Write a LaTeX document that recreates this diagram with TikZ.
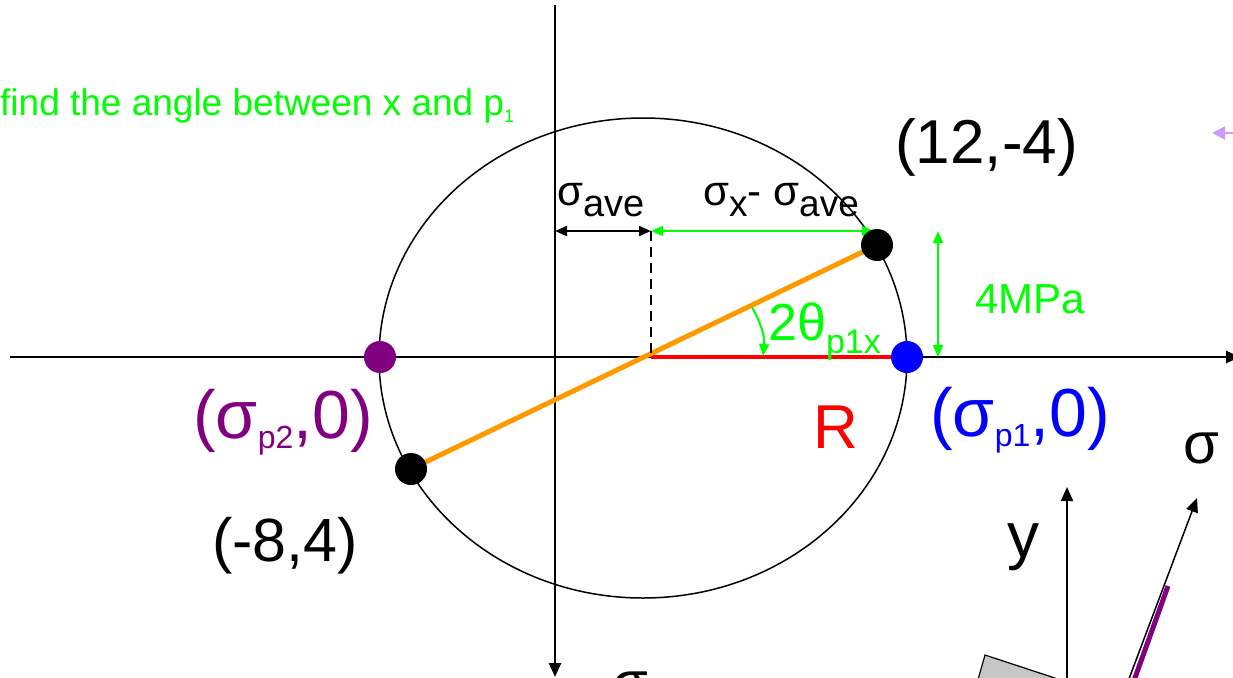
\documentclass[tikz,border=0pt]{standalone}
\usepackage{fontspec}
\setmainfont{Liberation Sans}
\usetikzlibrary{arrows.meta}
\definecolor{brightgreen}{HTML}{00FF00}
\definecolor{mohrpurple}{HTML}{800080}
\definecolor{mohrorange}{HTML}{FF9900}
\definecolor{lilac}{HTML}{CC99FF}
\newcommand{\fs}[1]{\fontsize{#1}{#1}\selectfont}
\newcommand{\lowsub}[3]{\raisebox{-#1pt}{\fs{#2}#3}}
\begin{document}
\begin{tikzpicture}[x=1pt,y=-1pt,
  bigtip/.style={-{Triangle[length=14pt,width=12pt]}},
  smalltip/.style={{Triangle[length=12pt,width=10pt]}-{Triangle[length=12pt,width=10pt]}},
  label/.style={anchor=base west,inner sep=0pt}]
\useasboundingbox (0,0) rectangle (1233,677);

\coordinate (W) at (10,357);
\coordinate (E) at (1240,357);
\coordinate (N) at (555,5);
\coordinate (S) at (555,677);
\coordinate (C) at (651,357);
\coordinate (X) at (877,245);
\coordinate (Y) at (411,469);
\coordinate (P1) at (907,357);
\coordinate (P2) at (380,357);
\coordinate (A) at (555,231);
\coordinate (B) at (651,231);
\coordinate (D) at (874,231);
\coordinate (T) at (938,231);
\coordinate (U) at (938,357);

% circle and axes
\draw[line width=1.5pt] (643,358) ellipse [x radius=264pt, y radius=240pt];
\draw[line width=2.5pt, bigtip] (W) -- (E);
\draw[line width=2.5pt, bigtip] (N) -- (S);

\draw[red, line width=4pt] (C) -- (P1);
\draw[mohrorange, line width=5pt] (Y) -- (X);
\draw[line width=2pt, dash pattern=on 10pt off 6pt] (B) -- (C);
\draw[line width=2pt, smalltip] (A) -- (B);
\draw[brightgreen, line width=2pt, smalltip] (B) -- (D);
\draw[brightgreen, line width=2pt, smalltip] (T) -- (U);
\draw[brightgreen, line width=2pt, -{Triangle[length=12pt,width=10pt]}]
  (752,307) .. controls (760,322) and (765,335) .. (763,356);

\fill (X) circle [radius=16pt];
\fill (Y) circle [radius=16pt];
\fill[blue] (P1) circle [radius=16pt];
\fill[mohrpurple] (P2) circle [radius=16pt];

% labels
\node[label, brightgreen] (note) at (0,115) {\fs{37}find the angle between x and p\lowsub{7}{18}{1}};
\node[label] (top) at (895,163) {\fs{62}(12,-4)};
\node[label] (bot) at (212,561) {\fs{61}(-8,4)};
\node[label, mohrpurple] (sp2) at (193,438) {\fs{68}(σ\lowsub{10}{32}{p2},0)};
\node[label, blue] (sp1) at (930,436) {\fs{68}(σ\lowsub{10}{32}{p1},0)};
\node[anchor=base, inner sep=0pt, red] (rad) at (836,448) {\fs{62}R};
\node[label] (save) at (557,205) {\fs{42}σ\lowsub{11}{38}{ave}};
\node[label] (sxave) at (703,205) {\fs{42}σ\lowsub{11}{37}{x}- σ\lowsub{11}{37}{ave}};
\node[label, brightgreen] (tau) at (975,313) {\fs{42}4MPa};
\node[label, brightgreen] (ang) at (768,340) {\fs{52}2θ\lowsub{13}{34}{p1x}};

% element sketch
\coordinate (Y0) at (1067,700);
\coordinate (Y1) at (1067,487);
\coordinate (S0) at (1121,700);
\coordinate (S1) at (1197,498);
\coordinate (Q0) at (1127,700);
\coordinate (Q1) at (1168,586);
\draw[fill=gray!45, line width=1.2pt] (985,655) -- (1070,683) -- (1060,720) -- (975,690) -- cycle;
\draw[line width=2pt, bigtip] (Y0) -- (Y1);
\draw[line width=1.5pt, bigtip] (S0) -- (S1);
\draw[mohrpurple, line width=5pt] (Q0) -- (Q1);
\node[label] (ylab) at (1007,557) {\fs{64}y};
\node[label] (sig) at (1183,463) {\fs{58}σ};
\node[anchor=north west, inner sep=0pt] (sigb) at (612,672) {\fs{58}σ};

\coordinate (L0) at (1240,133);
\coordinate (L1) at (1212,133);
\draw[lilac, line width=2pt, -{Triangle[length=13pt,width=13pt]}] (L0) -- (L1);
\end{tikzpicture}
\end{document}
